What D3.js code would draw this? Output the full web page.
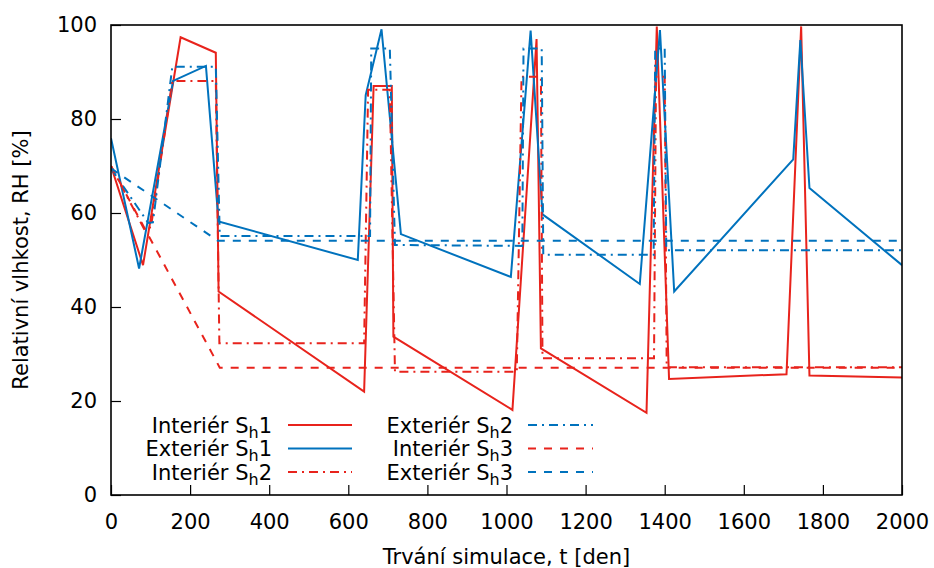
<!DOCTYPE html>
<html>
<head>
<meta charset="utf-8">
<script src="https://cdn.jsdelivr.net/npm/d3@7"></script>
<style>
  body { margin: 0; background: #fff; }
  svg text { font-family: "DejaVu Sans", sans-serif; fill: #000; }
</style>
</head>
<body>
<svg id="chart" width="934" height="568"></svg>
<script>
// Relative humidity over simulation time, interior / exterior surfaces, three variants
const xTicks = [0, 200, 400, 600, 800, 1000, 1200, 1400, 1600, 1800, 2000];
const yTicks = [0, 20, 40, 60, 80, 100];

const interiorSh1Days = [0, 81, 176, 265, 272, 640, 664, 710, 714, 1015, 1076, 1087, 1354, 1380, 1411, 1708, 1745, 1766, 2000];
const interiorSh1RH   = [70, 48.9, 97.4, 94.1, 43.3, 22.0, 87.0, 87.0, 33.7, 18.1, 97.0, 31.2, 17.5, 99.7, 24.7, 25.7, 99.7, 25.4, 25.0];

const exteriorSh1Days = [0, 71, 157, 240, 272, 624, 644, 684, 733, 1011, 1061, 1091, 1337, 1388, 1424, 1725, 1743, 1766, 2000];
const exteriorSh1RH   = [75.9, 48.2, 88.1, 91.3, 58.2, 50.0, 85.1, 99.1, 55.5, 46.4, 98.8, 59.7, 44.9, 98.9, 43.3, 71.4, 96.8, 65.3, 48.9];

const interiorSh2Days = [0, 85, 101, 155, 265, 274, 640, 650, 705, 718, 1026, 1038, 1087, 1091, 1373, 1378, 1400, 1405, 2000];
const interiorSh2RH   = [70, 56.4, 57.0, 88.1, 88.1, 32.3, 32.3, 86.2, 86.2, 26.2, 26.2, 89.0, 89.0, 29.1, 29.1, 89.0, 89.0, 27.2, 27.2];

const exteriorSh2Days = [0, 94, 106, 155, 265, 275, 655, 658, 705, 718, 1040, 1043, 1089, 1093, 1372, 1376, 1400, 1404, 2000];
const exteriorSh2RH   = [69.5, 57.9, 58.0, 91.1, 91.1, 55.1, 55.1, 95.0, 95.0, 53.2, 53.0, 95.0, 95.0, 51.1, 51.1, 95.0, 95.0, 52.1, 52.1];

const interiorSh3Days = [0, 275, 2000];
const interiorSh3RH   = [70, 27.1, 27.1];

const exteriorSh3Days = [0, 270, 2000];
const exteriorSh3RH   = [69.5, 54.1, 54.1];

const seriesNames  = ["Interiér", "Exteriér", "Interiér", "Exteriér", "Interiér", "Exteriér"];
const seriesIndex  = ["1", "1", "2", "2", "3", "3"];

const RED = "#e8231c", BLUE = "#0072bd";

const series = [
  { days: interiorSh1Days, rh: interiorSh1RH, color: RED,  dash: null },
  { days: exteriorSh1Days, rh: exteriorSh1RH, color: BLUE, dash: null },
  { days: interiorSh2Days, rh: interiorSh2RH, color: RED,  dash: "9,5,2,5" },
  { days: exteriorSh2Days, rh: exteriorSh2RH, color: BLUE, dash: "9,5,2,5" },
  { days: interiorSh3Days, rh: interiorSh3RH, color: RED,  dash: "8,8" },
  { days: exteriorSh3Days, rh: exteriorSh3RH, color: BLUE, dash: "8,8" }
].map((s, i) => ({ ...s, name: seriesNames[i], idx: seriesIndex[i] }));

const margin = { left: 111, right: 32, top: 25, bottom: 73 };
const W = 934, H = 568;
const svg = d3.select("#chart");

const x = d3.scaleLinear().domain([0, 2000]).range([margin.left, W - margin.right]);
const y = d3.scaleLinear().domain([0, 100]).range([H - margin.bottom, margin.top]);

svg.append("defs").append("clipPath").attr("id", "plot-clip")
  .append("rect")
  .attr("x", x(0)).attr("y", y(100))
  .attr("width", x(2000) - x(0)).attr("height", y(0) - y(100));

// Axes with inward ticks
const fontSize = 21;
const xAxis = svg.append("g")
  .attr("transform", `translate(0,${y(0)})`)
  .call(d3.axisBottom(x).tickValues(xTicks).tickFormat(d3.format("d"))
    .tickSize(-10).tickSizeOuter(0).tickPadding(19));
const yAxis = svg.append("g")
  .attr("transform", `translate(${x(0)},0)`)
  .call(d3.axisLeft(y).tickValues(yTicks).tickFormat(d3.format("d"))
    .tickSize(-10).tickSizeOuter(0).tickPadding(14));

[xAxis, yAxis].forEach(g => {
  g.select(".domain").remove();
  g.selectAll(".tick line").attr("stroke", "#000").attr("stroke-width", 1.2);
  g.selectAll(".tick text").attr("font-size", fontSize)
    .attr("font-family", "DejaVu Sans, sans-serif").attr("fill", "#000");
});

// Data lines
const line = d3.line().x(d => x(d[0])).y(d => y(d[1]));
const plot = svg.append("g").attr("clip-path", "url(#plot-clip)");
series.forEach(s => {
  plot.append("path")
    .datum(s.days.map((d, i) => [d, s.rh[i]]))
    .attr("d", line)
    .attr("fill", "none")
    .attr("stroke", s.color)
    .attr("stroke-width", 2)
    .attr("stroke-linejoin", "miter")
    .attr("stroke-dasharray", s.dash);
});

// Frame
svg.append("rect")
  .attr("x", x(0)).attr("y", y(100))
  .attr("width", x(2000) - x(0)).attr("height", y(0) - y(100))
  .attr("fill", "none").attr("stroke", "#000").attr("stroke-width", 1.6);

// Axis titles
svg.append("text")
  .attr("x", (x(0) + x(2000)) / 2).attr("y", 564)
  .attr("text-anchor", "middle").attr("font-size", fontSize)
  .text("Trvání simulace, t [den]");
svg.append("text")
  .attr("transform", `translate(28,${(y(0) + y(100)) / 2}) rotate(-90)`)
  .attr("text-anchor", "middle").attr("font-size", fontSize)
  .text("Relativní vlhkost, RH [%]");

// Legend: two columns of three rows
const legendCols = [{ textRight: 272, lineX0: 288, lineX1: 352 },
                    { textRight: 513, lineX0: 528, lineX1: 593 }];
const legendRows = [425, 448.5, 472];
const legend = svg.append("g");
series.forEach((s, i) => {
  const col = legendCols[Math.floor(i / 3)];
  const cy = legendRows[i % 3];
  const t = legend.append("text")
    .attr("x", col.textRight).attr("y", cy + 7.5)
    .attr("text-anchor", "end").attr("font-size", fontSize);
  t.append("tspan").text(s.name + " S");
  t.append("tspan").attr("font-size", 16).attr("dy", 5).text("h");
  t.append("tspan").attr("dy", -5).text(s.idx);
  legend.append("line")
    .attr("x1", col.lineX0).attr("x2", col.lineX1)
    .attr("y1", cy).attr("y2", cy)
    .attr("stroke", s.color).attr("stroke-width", 2)
    .attr("stroke-dasharray", s.dash);
});
</script>
</body>
</html>
